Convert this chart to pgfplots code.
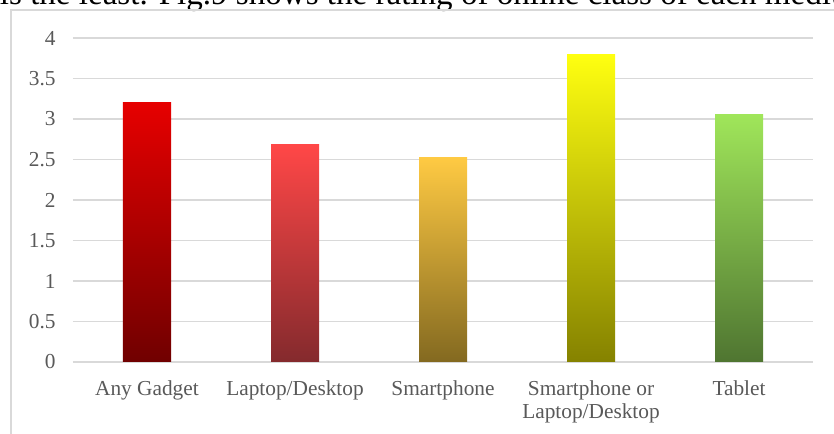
\documentclass[border=0pt]{standalone}
\usepackage{fontspec}
\setmainfont{Liberation Serif}
\usepackage{pgfplots}
\pgfplotsset{compat=1.18}

\definecolor{gridgray}{HTML}{D9D9D9}
\definecolor{labelgray}{HTML}{595959}
% bar gradients, top and bottom
\definecolor{aT}{HTML}{E60000}\definecolor{aB}{HTML}{700000}
\definecolor{bT}{HTML}{FF4747}\definecolor{bB}{HTML}{842A2D}
\definecolor{cT}{HTML}{FFCA43}\definecolor{cB}{HTML}{836920}
\definecolor{dT}{HTML}{FFFF10}\definecolor{dB}{HTML}{858200}
\definecolor{eT}{HTML}{A0E65A}\definecolor{eB}{HTML}{4F7531}

\begin{document}
\begin{tikzpicture}
\useasboundingbox (-54.75pt,-54pt) rectangle (570.75pt,271.5pt);
\clip (-54.75pt,-54pt) rectangle (570.75pt,271.5pt);
% body text of the page, cut off at the top
\node[anchor=base west, inner sep=0pt, font=\fontsize{24.8}{29}\selectfont]
  at (-55pt,267.75pt) {is the least. Fig.9 shows the rating of online class of each medium};
% chart frame
\draw[gridgray, line width=1.2pt] (-46.5pt,-80pt) -- (-46.5pt,264pt) -- (620pt,264pt);
\begin{axis}[
  scale only axis, width=555pt, height=243pt,
  xmin=-0.5, xmax=4.5, ymin=0, ymax=4,
  axis line style={draw=none},
  major tick length=0pt,
  ymajorgrids, grid style={gridgray, line width=1.1pt},
  ytick={0,0.5,...,4},
  yticklabels={0,0.5,1,1.5,2,2.5,3,3.5,4},
  xtick={0,1,2,3,4},
  xticklabels={Any Gadget,Laptop/Desktop,Smartphone,{Smartphone or\\Laptop/Desktop},Tablet},
  tick label style={font=\fontsize{16}{17.5}\selectfont, text=labelgray},
  xticklabel style={align=center, yshift=-10.5pt},
  yticklabel style={xshift=-9.5pt},
]
\addplot[ybar, bar width=36pt, bar shift=0pt, draw=none, top color=aT, bottom color=aB] coordinates {(0,3.20)};
\addplot[ybar, bar width=36pt, bar shift=0pt, draw=none, top color=bT, bottom color=bB] coordinates {(1,2.68)};
\addplot[ybar, bar width=36pt, bar shift=0pt, draw=none, top color=cT, bottom color=cB] coordinates {(2,2.53)};
\addplot[ybar, bar width=36pt, bar shift=0pt, draw=none, top color=dT, bottom color=dB] coordinates {(3,3.80)};
\addplot[ybar, bar width=36pt, bar shift=0pt, draw=none, top color=eT, bottom color=eB] coordinates {(4,3.06)};
\end{axis}
\end{tikzpicture}
\end{document}
